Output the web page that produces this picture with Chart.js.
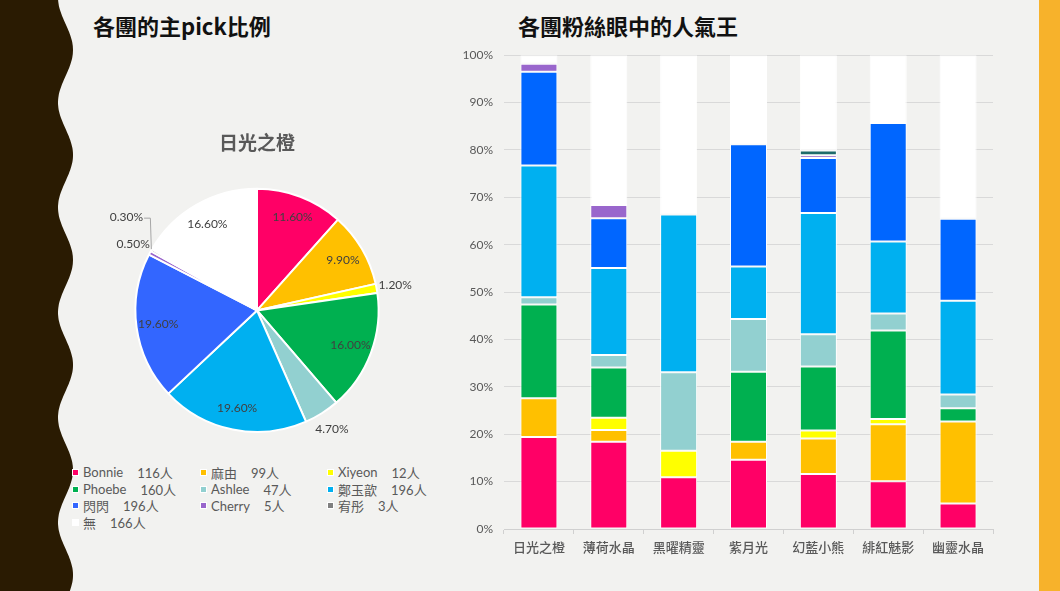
<!DOCTYPE html>
<html>
<head>
<meta charset="utf-8">
<script src="https://cdn.jsdelivr.net/npm/chart.js@4.4.1/dist/chart.umd.min.js"></script>
<style>
  html, body { margin: 0; padding: 0; }
  body {
    width: 1060px; height: 591px; background: #f2f2f0;
    position: relative; overflow: hidden;
    font-family: Lato, "Noto Sans CJK TC", sans-serif;
  }
  #wave { position: absolute; left: 0; top: 0; }
  #rightBar { position: absolute; left: 1039px; top: 0; width: 21px; height: 591px; background: #f7b22b; }
  .heading {
    position: absolute; top: 9px; line-height: 28px;
    font: bold 22px "Noto Sans CJK TC", sans-serif; color: #111;
  }
  #pieBox { position: absolute; left: 80px; top: 127px; width: 354px; height: 320px; }
  #barBox { position: absolute; left: 455px; top: 37px; width: 545px; height: 520px; }
  #legend {
    position: absolute; left: 72px; top: 464px;
    display: grid; grid-template-columns: 128px 127px 120px; grid-auto-rows: 16.7px;
    font-size: 13px; color: #595959;
  }
  #legend .item { display: flex; align-items: center; white-space: nowrap; }
  #legend .box { width: 5px; height: 5px; border: 1.5px solid #fff; margin-right: 4px; }
  #legend .count { margin-left: 14px; }
</style>
</head>
<body>
<svg id="wave" width="80" height="591"><path id="wavePath" fill="#2a1b02"></path></svg>
<div id="rightBar"></div>
<div class="heading" style="left:93px">各團的主pick比例</div>
<div class="heading" style="left:518px">各團粉絲眼中的人氣王</div>
<div id="pieBox"><canvas id="pieChart"></canvas></div>
<div id="legend"></div>
<div id="barBox"><canvas id="barChart"></canvas></div>
<script>
// pie: 日光之橙 members
const members = ["Bonnie", "麻由", "Xiyeon", "Phoebe", "Ashlee", "鄭玉歆", "閃閃", "Cherry", "宥彤", "無"];
const memberCounts = [116, 99, 12, 160, 47, 196, 196, 5, 3, 166];
const pieColors = ["#ff0066", "#ffc000", "#ffff00", "#00b050", "#92d0d0", "#00b0f0", "#3366ff", "#9966cc", "#808080", "#ffffff"];

// bar: popularity per group (%)
const groups = ["日光之橙", "薄荷水晶", "黑曜精靈", "紫月光", "幻藍小熊", "緋紅魅影", "幽靈水晶"];
const bonnie = [19.4, 18.4, 10.9, 14.6, 11.6, 10.1, 5.4];
const mayu = [8.2, 2.5, 0, 3.8, 7.5, 12.0, 17.3];
const xiyeon = [0, 2.6, 5.6, 0, 1.7, 1.1, 0];
const phoebe = [19.8, 10.6, 0, 14.8, 13.5, 18.7, 2.8];
const ashlee = [1.5, 2.6, 16.6, 11.1, 6.8, 3.6, 2.9];
const zheng = [27.8, 18.4, 33.3, 11.1, 25.6, 15.2, 19.8];
const shanshan = [19.8, 10.5, 0, 25.8, 11.6, 25.0, 17.3];
const cherry = [1.7, 2.8, 0, 0, 0.6, 0, 0];
const youtong = [0, 0, 0, 0, 1.0, 0, 0];
const none = [1.8, 31.6, 33.6, 18.8, 20.1, 14.3, 34.5];
const yTickLabels = ["0%", "10%", "20%", "30%", "40%", "50%", "60%", "70%", "80%", "90%", "100%"];

// wavy left edge
let d = "M0 0";
for (let y = 0; y <= 592; y += 2) {
  const x = 65.5 + 7.5 * Math.cos(2 * Math.PI * (y - 50) / 105);
  d += " L" + x.toFixed(1) + " " + y;
}
d += " L0 592 Z";
document.getElementById("wavePath").setAttribute("d", d);

// legend
const legend = document.getElementById("legend");
members.forEach((m, i) => {
  const item = document.createElement("div");
  item.className = "item";
  item.innerHTML = `<span class="box" style="background:${pieColors[i]}"></span><span>${m}</span><span class="count">${memberCounts[i]}人</span>`;
  legend.appendChild(item);
});

const pieLabels = {
  id: "pieLabels",
  afterDatasetsDraw(chart) {
    const ctx = chart.ctx;
    const meta = chart.getDatasetMeta(0);
    const total = memberCounts.reduce((a, b) => a + b, 0);
    ctx.save();
    ctx.font = "12px Lato";
    ctx.fillStyle = "#404040";
    ctx.textAlign = "center";
    ctx.textBaseline = "middle";
    meta.data.forEach((arc, i) => {
      const { x, y, startAngle, endAngle, outerRadius } = arc.getProps(["x", "y", "startAngle", "endAngle", "outerRadius"], true);
      const mid = (startAngle + endAngle) / 2;
      const pct = memberCounts[i] / total * 100;
      const text = pct.toFixed(2) + "%";
      if (pct >= 5) {
        const r = outerRadius * 0.82;
        ctx.fillText(text, x + r * Math.cos(mid), y + r * Math.sin(mid));
      } else if (pct < 0.4) {
        const ex = x + outerRadius * Math.cos(mid), ey = y + outerRadius * Math.sin(mid);
        const lx = ex - 25, ly = ey - 33;
        ctx.fillText(text, lx, ly);
        const w = ctx.measureText(text).width;
        ctx.strokeStyle = "#a6a6a6";
        ctx.lineWidth = 1;
        ctx.beginPath();
        ctx.moveTo(lx + w / 2 + 1, ly + 1);
        ctx.lineTo(ex - 1, ly + 1);
        ctx.lineTo(ex, ey - 1);
        ctx.stroke();
      } else {
        const r = outerRadius + 19;
        ctx.fillText(text, x + r * Math.cos(mid), y + r * Math.sin(mid));
      }
    });
    ctx.restore();
  }
};

new Chart(document.getElementById("pieChart"), {
  type: "pie",
  data: {
    labels: members,
    datasets: [{ data: memberCounts, backgroundColor: pieColors, borderColor: "#ffffff", borderWidth: 2 }]
  },
  options: {
    responsive: true,
    maintainAspectRatio: false,
    animation: false,
    layout: { padding: { bottom: 14 } },
    plugins: {
      legend: { display: false },
      tooltip: { enabled: false },
      title: {
        display: true,
        text: "日光之橙",
        color: "#595959",
        font: { family: "'Noto Sans CJK TC'", size: 19, weight: "bold" },
        padding: { top: 4, bottom: 34 }
      }
    }
  },
  plugins: [pieLabels]
});

const barSeries = [bonnie, mayu, xiyeon, phoebe, ashlee, zheng, shanshan, cherry, youtong, none];
const barColors = ["#ff0066", "#ffc000", "#ffff00", "#00b050", "#92d0d0", "#00b0f0", "#0066ff", "#9966cc", "#1f6b6b", "#ffffff"];

new Chart(document.getElementById("barChart"), {
  type: "bar",
  data: {
    labels: groups,
    datasets: barSeries.map((s, i) => ({
      label: members[i],
      data: s.map(v => v || null),
      backgroundColor: barColors[i],
      borderColor: "#ffffff",
      borderWidth: 1,
      borderSkipped: false,
      barPercentage: 0.53,
      categoryPercentage: 1
    }))
  },
  options: {
    responsive: true,
    maintainAspectRatio: false,
    animation: false,
    layout: { padding: { top: 4, right: 7 } },
    plugins: { legend: { display: false }, tooltip: { enabled: false } },
    scales: {
      x: {
        stacked: true,
        afterFit: (s) => { s.height = 28; },
        grid: { drawOnChartArea: false, drawTicks: true, tickLength: 5, color: "#d0d0d0" },
        border: { display: true, color: "#d0d0d0" },
        ticks: { color: "#595959", padding: 5, font: { family: "'Noto Sans CJK TC'", size: 13, weight: 500 } }
      },
      y: {
        stacked: true,
        min: 0,
        max: 100,
        afterFit: (s) => { s.width = 49; },
        grid: { color: "#d9d9d9", drawTicks: false },
        border: { display: false },
        ticks: {
          stepSize: 10,
          padding: 11,
          color: "#595959",
          font: { family: "Lato", size: 12 },
          callback: (v, i) => yTickLabels[i]
        }
      }
    }
  }
});
</script>
</body>
</html>
